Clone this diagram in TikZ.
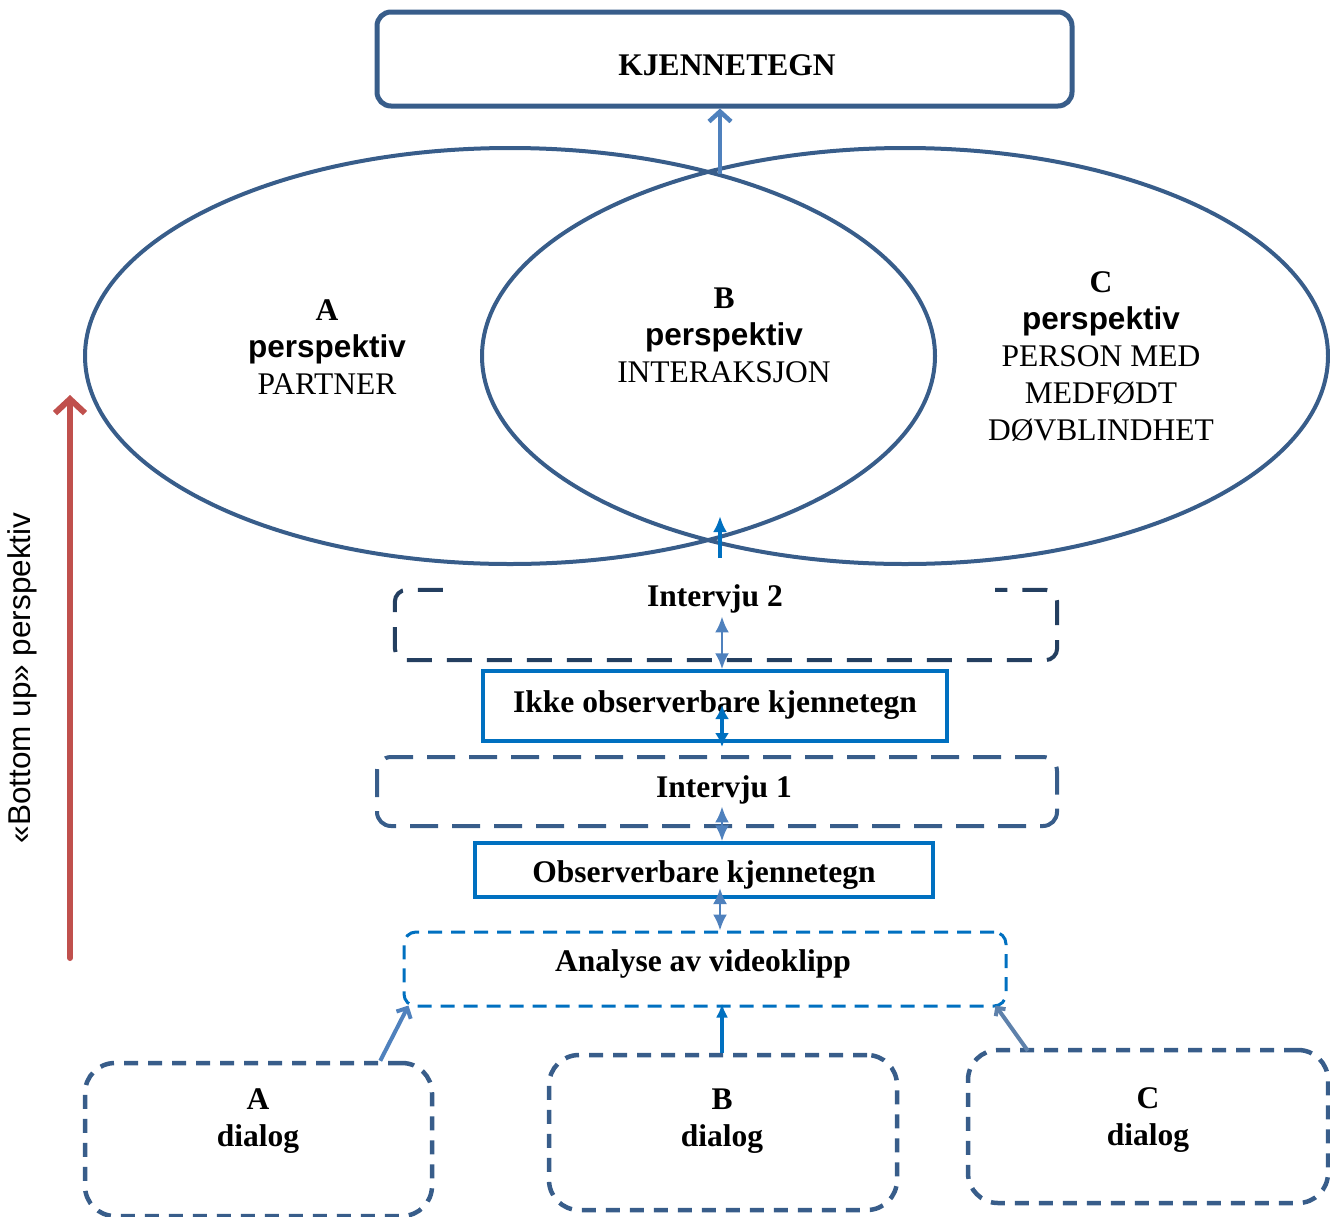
\documentclass[tikz,border=0pt]{standalone}
\usepackage{fontspec}
\setmainfont{Liberation Serif}
\newfontfamily\arialf{Liberation Sans}
\usetikzlibrary{shapes.geometric,arrows.meta,calc}
\definecolor{frame}{HTML}{385D8A}
\definecolor{navy}{HTML}{243F60}
\definecolor{lblue}{HTML}{4F81BD}
\definecolor{sblue}{HTML}{0070C0}
\definecolor{redc}{HTML}{C0504D}
\tikzset{
  txt/.style={font=\fontsize{31.5}{37}\selectfont, align=center, inner sep=0pt},
  btxt/.style={txt, font=\fontsize{31.5}{37}\selectfont\bfseries},
  ell/.style={ellipse, draw=frame, line width=4pt, minimum width=850pt, minimum height=416pt, inner sep=0pt},
  solidbox/.style={rectangle, draw=sblue, line width=3.5pt, inner sep=0pt},
  dialogbox/.style={rectangle, draw=frame, line width=4.5pt, rounded corners=30pt, dash pattern=on 14pt off 10pt, inner sep=0pt},
  dbl/.style={lblue, line width=2.5pt, {Latex[length=16pt,width=14pt]}-{Latex[length=16pt,width=14pt]}},
  dbls/.style={sblue, line width=3.5pt, {Latex[length=14pt,width=14pt]}-{Latex[length=14pt,width=14pt]}},
}
\begin{document}
\begin{tikzpicture}[x=1pt,y=-1pt]
\useasboundingbox (0,0) rectangle (1330,1216);
% top box
\node[rectangle, draw=frame, line width=5pt, rounded corners=14pt, minimum width=695pt, minimum height=94pt, inner sep=0pt] (kj) at (724.5,59) {};
\node[btxt] (kjt) at (727,65) {KJENNETEGN};
% ellipses
\node[ell] (ea) at (510,356) {};
\node[ell, minimum width=846pt] (ec) at (905,356) {};
\node[txt] (ta) at (327,347) {\textbf{A}\\{\arialf\bfseries perspektiv}\\PARTNER};
\node[txt] (tb) at (724,335) {\textbf{B}\\{\arialf\bfseries perspektiv}\\INTERAKSJON};
\node[txt] (tc) at (1101,356) {\textbf{C}\\{\arialf\bfseries perspektiv}\\PERSON MED\\MEDFØDT\\DØVBLINDHET};
\coordinate (tx) at (720,174);
\draw[lblue, line width=4.5pt, -{Straight Barb[length=10pt,width=22pt]}] (tx) -- (tx |- kj.south);
\coordinate (bx) at (720,558);
\draw[sblue, line width=3.5pt, -{Latex[length=16pt,width=14pt]}] (bx) -- ($(bx)+(0,-42)$);
% column for vertical arrows
\coordinate (col) at (722,0);
% Intervju 2
\node[minimum width=662pt, minimum height=70pt, inner sep=0pt] (i2) at (726,625) {};
\draw[navy, line width=4pt, rounded corners=12pt, dash pattern=on 25pt off 15pt]
  ($(i2.north west)+(48,0)$) -| (i2.south west) -| (i2.north east) -- ($(i2.north east)+(-62,0)$);
\node[btxt] (i2t) at (715,599) {Intervju 2};
% Ikke observerbare
\node[solidbox, minimum width=464pt, minimum height=70pt] (ik) at (715,706) {};
\node[btxt] (ikt) at (715,705) {Ikke observerbare kjennetegn};
% Intervju 1
\node[rectangle, draw=frame, line width=4pt, rounded corners=14pt, dash pattern=on 28pt off 14pt, minimum width=680pt, minimum height=69pt, inner sep=0pt] (i1) at (717,791.5) {};
\node[btxt] (i1t) at (724,790) {Intervju 1};
% Observerbare
\node[solidbox, minimum width=458pt, minimum height=54pt] (ob) at (704,870) {};
\node[btxt] (obt) at (704,875) {Observerbare kjennetegn};
% Analyse
\node[rectangle, draw=sblue, line width=3pt, rounded corners=12pt, dash pattern=on 14pt off 9pt, minimum width=602pt, minimum height=74pt, inner sep=0pt] (an) at (705,969) {};
\node[btxt] (ant) at (703,964) {Analyse av videoklipp};
% vertical double arrows
\draw[dbl] ($(col |- i2t.south)+(0,3)$) -- (col |- ik.north);
\draw[dbls] (col |- ikt.center) -- ($(col |- i1.north)+(0,-8)$);
\draw[dbl] ($(col |- i1t.south)+(0,2)$) -- (col |- ob.north);
\draw[dbl] ($(col |- ob.center)+(-2,18)$) -- ($(col |- an.north)+(-2,0)$);
% dialog boxes
\node[dialogbox, minimum width=347pt, minimum height=153pt] (da) at (258.5,1139.5) {};
\node[dialogbox, minimum width=348pt, minimum height=155pt] (db) at (723,1132.5) {};
\node[dialogbox, minimum width=360pt, minimum height=153pt] (dc) at (1148,1126.5) {};
\node[btxt] (dat) at (258,1121) {A\\dialog};
\node[btxt] (dbt) at (722,1121) {B\\dialog};
\node[btxt] (dct) at (1148,1120) {C\\dialog};
\draw[lblue, line width=4pt, -{Straight Barb[length=8pt,width=16pt]}] ($(da.north east)+(-54,0)$) -- ($(an.south west)+(6,-2)$);
\draw[sblue, line width=4.5pt, -{Latex[length=14pt,width=12pt]}] (db.north -| col) -- ($(an.south -| col)+(0,-4)$);
\draw[lblue!70!gray, line width=4pt, -{Straight Barb[length=6pt,width=12pt]}] ($(dc.north west)+(62,3)$) -- ($(an.south east)+(-12,-2)$);
% bottom up arrow
\coordinate (rb) at (70,958);
\coordinate (rt) at (70,395);
\draw[redc, line width=6pt, line cap=round, -{Straight Barb[length=14pt,width=30pt]}] (rb) -- (rt);
\node[txt, rotate=90, font=\fontsize{31.5}{37}\selectfont\arialf] (bu) at (22,678) {«Bottom up» perspektiv};
\end{tikzpicture}
\end{document}
